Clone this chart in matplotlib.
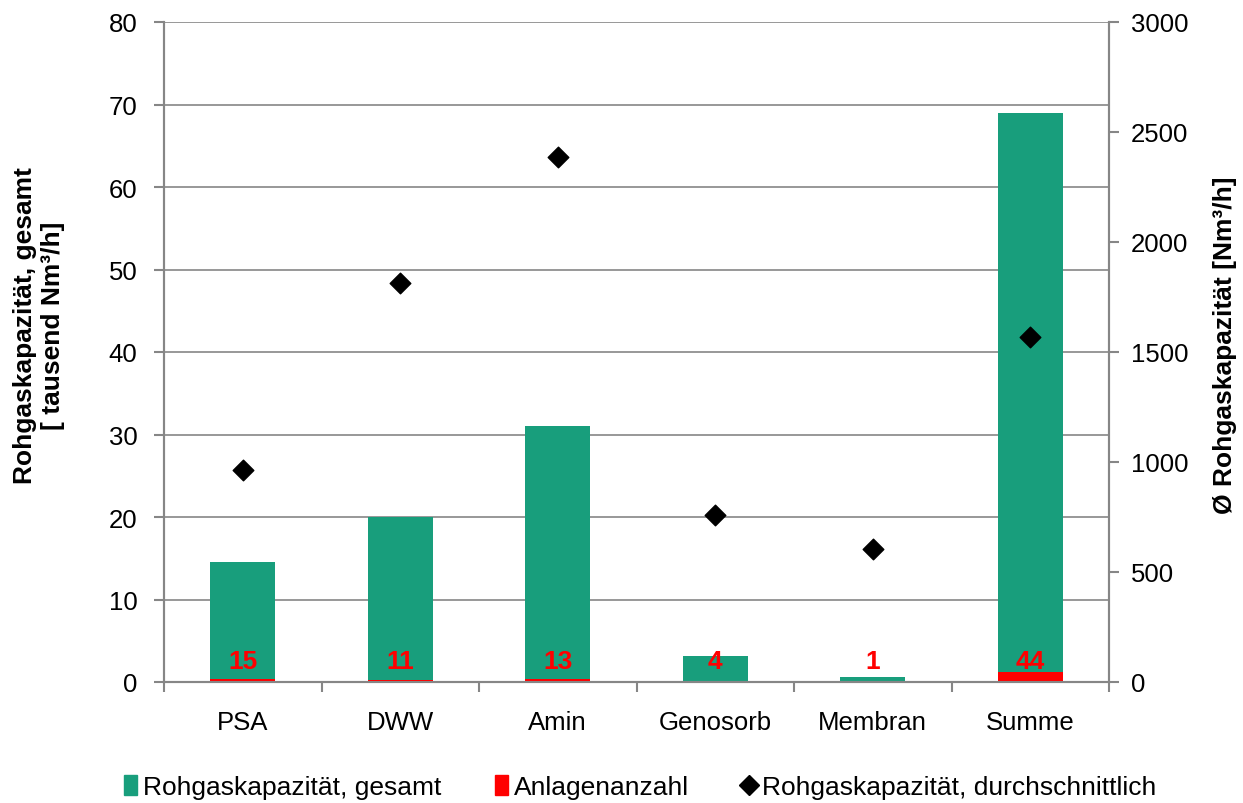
import numpy as np
import matplotlib
matplotlib.use('Agg')
import matplotlib.pyplot as plt
from matplotlib.lines import Line2D
from matplotlib.patches import Patch

plt.rcParams['font.family'] = ['Liberation Sans', 'DejaVu Sans']

categories = ['PSA', 'DWW', 'Amin', 'Genosorb', 'Membran', 'Summe']
capacity_total = [14.5, 20.0, 31.0, 3.1, 0.6, 69.0]      # tausend Nm3/h
plant_count = [15, 11, 13, 4, 1, 44]
capacity_avg = [965, 1815, 2385, 757, 603, 1567]         # Nm3/h

GREEN = '#189E7C'
RED = '#FF0000'
GREY = '#868686'

fig = plt.figure(figsize=(12.43, 8.04), dpi=100)
ax = fig.add_axes([164 / 1243, 1 - 683 / 804, 945 / 1243, 660 / 804])
ax2 = ax.twinx()

x = np.arange(len(categories))
width = 0.41

ax.grid(axis='y', color=GREY, linewidth=1.2, zorder=0)
ax.set_axisbelow(True)
ax.bar(x, capacity_total, width, color=GREEN, zorder=2)
ax2.bar(x, plant_count, width, color=RED, zorder=2)
ax2.scatter(x, capacity_avg, marker='D', s=110, color='black', zorder=3)

for xi, n in zip(x, plant_count):
    ax.text(xi, 2.5, str(n), ha='center', va='center', color=RED,
            fontsize=19, fontweight='bold', zorder=5)

ax.set_xlim(-0.5, len(categories) - 0.5)
ax.set_ylim(0, 80)
ax2.set_ylim(0, 3000)
ax.set_yticks(range(0, 81, 10))
ax2.set_yticks(range(0, 3001, 500))

ax.set_xticks(x)
ax.set_xticklabels(categories, fontsize=18.5)
ax.set_xticks(np.arange(-0.5, len(categories)), minor=True)
ax.tick_params(axis='x', which='major', length=0, pad=20)
ax.tick_params(axis='x', which='minor', length=7, color=GREY, width=1.5)
ax.tick_params(axis='y', labelsize=18.5, length=7, color=GREY, width=1.5, pad=12)
ax2.tick_params(axis='y', labelsize=18.5, length=7, color=GREY, width=1.5, pad=9)

for a in (ax, ax2):
    a.spines['top'].set_visible(False)
    for s in ('left', 'right', 'bottom'):
        a.spines[s].set_color(GREY)
        a.spines[s].set_linewidth(1.5)

ax.set_ylabel('Rohgaskapazität, gesamt\n[ tausend Nm³/h]', fontsize=19,
              fontweight='bold', linespacing=1.2)
ax.yaxis.set_label_coords(-0.105, 0.541)
ax2.set_ylabel('Ø Rohgaskapazität [Nm³/h]', fontsize=19, fontweight='bold',
               rotation=90)
ax2.yaxis.set_label_coords(1.110, 0.512)

handles = [
    Patch(facecolor=GREEN, edgecolor=GREEN),
    Patch(facecolor=RED, edgecolor=RED),
    Line2D([], [], marker='D', color='black', linestyle='none', markersize=10),
]
labels = ['Rohgaskapazität, gesamt', 'Anlagenanzahl',
          'Rohgaskapazität, durchschnittlich']
fig.legend(handles, labels, loc='center', bbox_to_anchor=(640 / 1243, 1 - 788 / 804),
           ncol=3, frameon=False, fontsize=19, handlelength=0.5, handleheight=0.8,
           handletextpad=0.25, columnspacing=2.0)

fig.savefig('out.png', dpi=100)
